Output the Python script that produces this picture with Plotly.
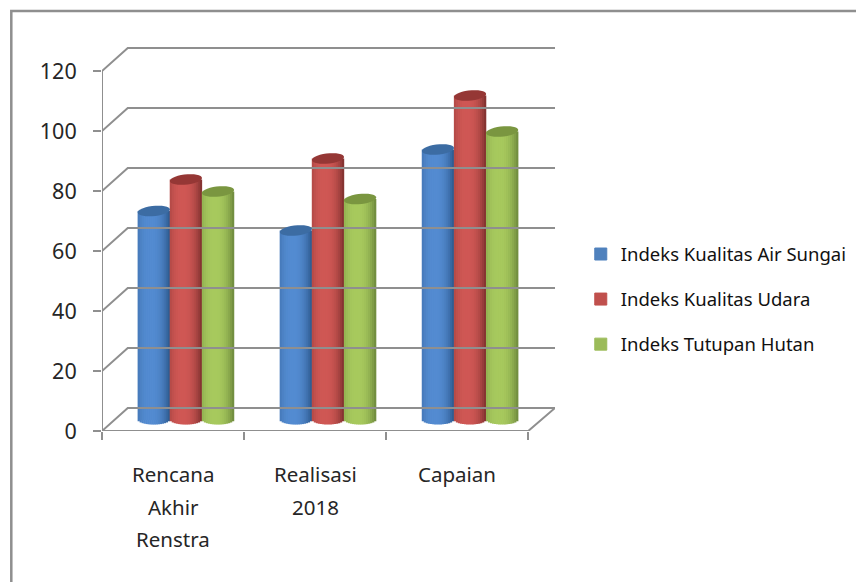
import math
import plotly.graph_objects as go

categories = ["Rencana<br>Akhir<br>Renstra", "Realisasi<br>2018", "Capaian"]
air_sungai = [69.5, 63, 90]
udara = [80, 87, 108]
tutupan_hutan = [76, 73.5, 96]
y_ticks = [0, 20, 40, 60, 80, 100, 120]
series_names = ["Indeks Kualitas Air Sungai", "Indeks Kualitas Udara", "Indeks Tutupan Hutan"]
series_values = [air_sungai, udara, tutupan_hutan]

FONT = "Noto Sans"
GRID = "#8f8f8f"
TEXT = "#262626"
base_col = ["#4f81bd", "#c0504d", "#9bbb59"]
cap_col = ["#3c6ca3", "#953735", "#7a9640"]
edge_col = [(44, 88, 140), (125, 48, 46), (108, 135, 60)]
mid_col = [(84, 140, 210), (208, 88, 85), (168, 202, 94)]

# layout geometry: the page body has an 8 px margin, so the figure is inset by it
OFF = 8
W, H = 864 - OFF, 582 - OFF
L, R, T, B = 102 - OFF, 559 - OFF, 40 - OFF, 431 - OFF
PX_X = 143.33
PX_Y = 3.0
x_range = [-0.5, -0.5 + (R - L) / PX_X]
y_range = [0, (B - T) / PX_Y]
dx = 26 / PX_X
dv = 23 / PX_Y
n = len(categories)
cyl_w = 32.4 / PX_X
cap_h = 1.7


def paper_x(px):
    return (px - OFF - L) / (R - L)


def paper_y(py):
    return (B - (py - OFF)) / (B - T)


def shade(s, u):
    # u in -1..1 across the cylinder; brightest a little left of centre
    t = max(0.0, 1 - abs((u + 0.2) / 1.2) ** 2.4)
    e, m = edge_col[s], mid_col[s]
    return "rgb(%d,%d,%d)" % tuple(e[i] + (m[i] - e[i]) * t for i in range(3))


fig = go.Figure()

# walls and floor
xl, xb = -0.5, -0.5 + dx
for v in y_ticks:
    fig.add_trace(go.Scatter(x=[xl, xb, x_range[1]], y=[v, v + dv, v + dv], mode="lines",
                             line=dict(color=GRID, width=2), showlegend=False,
                             hoverinfo="skip", cliponaxis=False))
fig.add_trace(go.Scatter(x=[xl, xl], y=[y_ticks[0], y_ticks[-1]], mode="lines",
                         line=dict(color=GRID, width=2), showlegend=False,
                         hoverinfo="skip", cliponaxis=False))
fig.add_trace(go.Scatter(x=[xl, n - 0.5, x_range[1]], y=[0, 0, dv], mode="lines",
                         line=dict(color=GRID, width=2), showlegend=False,
                         hoverinfo="skip", cliponaxis=False))

# cylinders
xs = list(range(n))
shapes = []
STRIPS = 16
for s, vals in enumerate(series_values):
    centre = [c + dx / 2 + (s - 1) * cyl_w for c in xs]
    fig.add_trace(go.Bar(x=centre, y=vals, base=[dv / 2] * n, width=cyl_w * 0.9,
                         marker=dict(color=base_col[s], line=dict(width=1, color=base_col[s])),
                         name=series_names[s], legendgroup=series_names[s],
                         hoverinfo="skip"))
    for k in range(STRIPS):
        u = -1 + (2 * k + 1) / STRIPS
        drop = cap_h * math.sqrt(max(0, 1 - u * u))
        fig.add_trace(go.Bar(x=[c + u * cyl_w / 2 for c in centre],
                             y=[v + drop for v in vals],
                             base=[dv / 2 - drop] * n,
                             width=cyl_w / STRIPS * 1.15,
                             marker=dict(color=shade(s, u), line=dict(width=0)),
                             showlegend=False, legendgroup=series_names[s],
                             hoverinfo="skip"))
    # tilted elliptical caps
    for c, v in zip(centre, vals):
        pts = []
        for a in range(0, 360, 12):
            ca, sa = math.cos(math.radians(a)), math.sin(math.radians(a))
            pts.append((c + ca * cyl_w / 2, v + dv / 2 + sa * cap_h + ca * 0.5))
        path = "M" + " L".join("%.4f,%.4f" % p for p in pts) + " Z"
        shapes.append(dict(type="path", path=path, xref="x", yref="y",
                           fillcolor=cap_col[s], line=dict(width=0), layer="above"))

# outer frame
shapes.append(dict(type="path", xref="paper", yref="paper",
                   path="M%.5f,%.5f L%.5f,%.5f L%.5f,%.5f" % (
                       paper_x(10.5), paper_y(590), paper_x(10.5), paper_y(11),
                       paper_x(870), paper_y(11)),
                   line=dict(color=GRID, width=2.5), layer="above"))

# category labels, one annotation per line
annotations = []
for c, label in zip(xs, categories):
    for j, line in enumerate(label.split("<br>")):
        annotations.append(dict(x=c, y=0, xref="x", yref="y", text=line, showarrow=False,
                                xanchor="center", yanchor="middle",
                                yshift=-(43 + 32.5 * j),
                                font=dict(family=FONT, size=20.5, color=TEXT)))

fig.update_layout(
    width=W, height=H, autosize=False,
    margin=dict(l=L, r=W - R, t=T, b=H - B, pad=0),
    paper_bgcolor="white", plot_bgcolor="white",
    barmode="overlay", shapes=shapes, annotations=annotations,
    font=dict(family=FONT, color=TEXT),
    xaxis=dict(range=x_range, tickvals=[i - 0.5 for i in range(n + 1)], ticks="outside",
               ticklen=8, tickwidth=2, tickcolor=GRID, showticklabels=False,
               showgrid=False, zeroline=False, showline=False),
    yaxis=dict(range=y_range, tickvals=y_ticks, ticks="outside", ticklen=8, tickwidth=2,
               tickcolor=GRID, showgrid=False, zeroline=False, showline=False,
               ticklabelstandoff=12, tickfont=dict(family=FONT, size=21.5, color=TEXT)),
    legend=dict(x=paper_x(585), y=paper_y(299.5), xanchor="left", yanchor="middle",
                traceorder="grouped", tracegroupgap=18,
                font=dict(family=FONT, size=18.5, color="#111111"),
                bgcolor="rgba(0,0,0,0)", itemclick=False, itemdoubleclick=False),
)

fig.write_html("out.html", config=dict(displayModeBar=False))
